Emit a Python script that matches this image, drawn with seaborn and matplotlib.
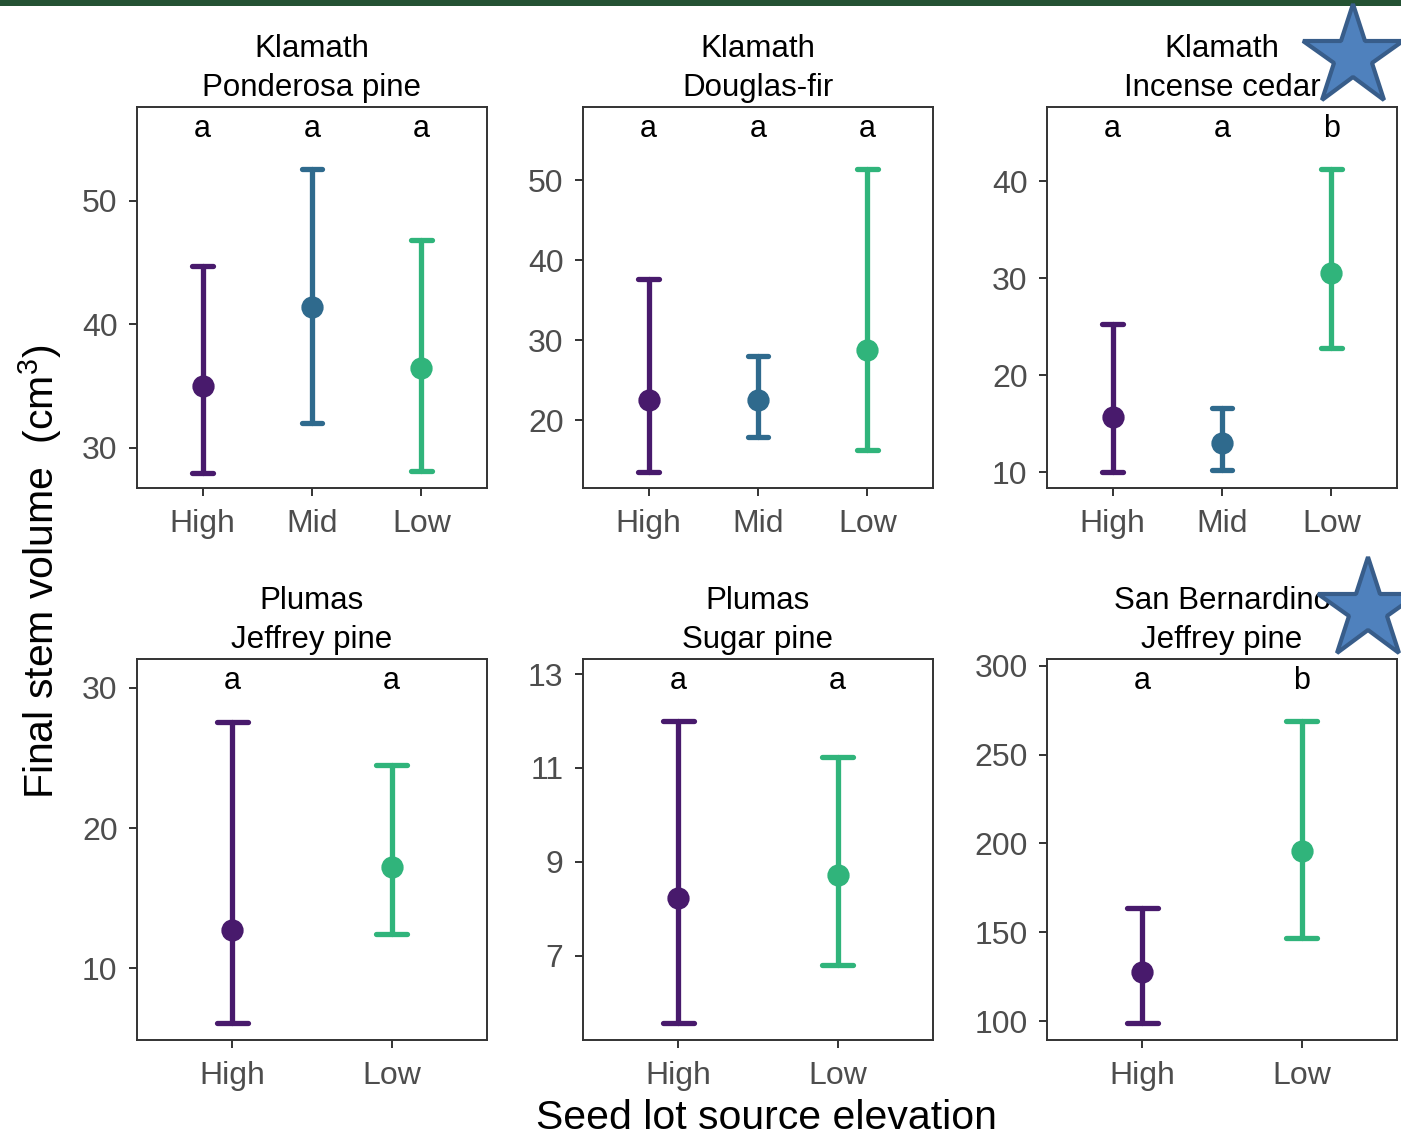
import numpy as np
import pandas as pd
import matplotlib
matplotlib.use("Agg")
import matplotlib.pyplot as plt
from matplotlib.lines import Line2D
from matplotlib.patches import Rectangle
import seaborn as sns

# ---------------- data ----------------
regions = ["Klamath", "Klamath", "Klamath", "Plumas", "Plumas", "San Bernardino"]
species = ["Ponderosa pine", "Douglas-fir", "Incense cedar", "Jeffrey pine", "Sugar pine", "Jeffrey pine"]
categories = [["High", "Mid", "Low"], ["High", "Mid", "Low"], ["High", "Mid", "Low"],
              ["High", "Low"], ["High", "Low"], ["High", "Low"]]
means = [[35.0, 41.4, 36.5], [22.5, 22.5, 28.8], [15.7, 13.0, 30.5],
         [12.7, 17.2], [8.23, 8.72], [127.5, 195.8]]
lowers = [[28.0, 32.0, 28.1], [13.5, 17.9, 16.3], [10.0, 10.2, 22.8],
          [6.1, 12.4], [5.57, 6.81], [99.0, 147.0]]
uppers = [[44.7, 52.6, 46.8], [37.7, 28.0, 51.4], [25.3, 16.6, 41.3],
          [27.6, 24.5], [12.0, 11.23], [163.7, 269.0]]
letters = [["a", "a", "a"], ["a", "a", "a"], ["a", "a", "b"],
           ["a", "a"], ["a", "a"], ["a", "b"]]
yticks = [[30, 40, 50], [20, 30, 40, 50], [10, 20, 30, 40],
          [10, 20, 30], [7, 9, 11, 13], [100, 150, 200, 250, 300]]
ylims = [(26.75, 57.6), (11.5, 59.2), (8.35, 47.65),
         (4.86, 32.07), (5.21, 13.32), (89.3, 303.9)]

palette = {"High": "#481A6C", "Mid": "#2F6A8D", "Low": "#30B47B"}

# ---------------- style ----------------
sns.set_theme(style="white")
plt.rcParams["font.family"] = ["Liberation Sans", "DejaVu Sans"]
plt.rcParams["mathtext.fontset"] = "custom"
plt.rcParams["mathtext.rm"] = "Liberation Sans"
plt.rcParams["mathtext.it"] = "Liberation Sans:italic"

W, H = 1401, 1135
fig = plt.figure(figsize=(W / 100, H / 100), dpi=100)
fig.patch.set_facecolor("white")

col_left = [137, 583, 1047]
row_top = [107, 659]
ax_w, ax_h = 350, 381

for i in range(6):
    r, c = divmod(i, 3)
    left = col_left[c] / W
    bottom = 1 - (row_top[r] + ax_h) / H
    ax = fig.add_axes([left, bottom, ax_w / W, ax_h / H])
    cats = categories[i]
    rows = []
    for k, cat in enumerate(cats):
        for v in (lowers[i][k], means[i][k], uppers[i][k]):
            rows.append({"elev": cat, "val": v})
    df = pd.DataFrame(rows)
    sns.pointplot(data=df, x="elev", y="val", hue="elev", order=cats, hue_order=cats,
                  palette=palette, estimator="median",
                  errorbar=lambda v: (np.min(v), np.max(v)),
                  capsize=0.19, linestyle="none", markers="o", markersize=14,
                  err_kws={"linewidth": 3.8}, legend=False, ax=ax)
    ax.set_xlim(-0.6, len(cats) - 0.4)
    ax.set_ylim(*ylims[i])
    ax.set_yticks(yticks[i])
    ax.set_xlabel("")
    ax.set_ylabel("")
    for sp in ax.spines.values():
        sp.set_visible(True)
        sp.set_color("#333333")
        sp.set_linewidth(1.4)
    ax.tick_params(axis="both", which="major", length=6, width=1.4, color="#333333",
                   labelsize=23, labelcolor="#4D4D4D", direction="out",
                   bottom=True, left=True)
    ax.tick_params(axis="y", pad=8)
    ax.tick_params(axis="x", pad=9)
    ax.set_title(f"{regions[i]}\n{species[i]}", fontsize=22.5, color="black",
                 linespacing=1.4, pad=8)
    tr = matplotlib.transforms.blended_transform_factory(ax.transData, ax.transAxes)
    for k, lab in enumerate(letters[i]):
        ax.text(k, 0.942, lab, transform=tr, ha="center", va="center",
                fontsize=22, color="black")

# axis labels
fig.text(766 / W, 1 - 1118 / H, "Seed lot source elevation", ha="center", va="center",
         fontsize=29.5, color="black")
fig.text(40 / W, 1 - 572 / H, "Final stem volume  (cm$^3$)", ha="center", va="center",
         rotation=90, fontsize=29.5, color="black")

# top green bar
fig.patches.append(Rectangle((0, 1 - 6 / H), 1, 6 / H, transform=fig.transFigure,
                             facecolor="#245233", edgecolor="none", zorder=10))

# stars
star_centers = [(1353, 57), (1368, 610)]
for (sx, sy) in star_centers:
    fig.add_artist(Line2D([sx / W], [1 - sy / H], marker="*", markersize=76,
                          markerfacecolor="#4F81BD", markeredgecolor="#385D8A",
                          markeredgewidth=3, linestyle="none",
                          transform=fig.transFigure, zorder=20))

fig.savefig("out.png", dpi=100, facecolor="white")
